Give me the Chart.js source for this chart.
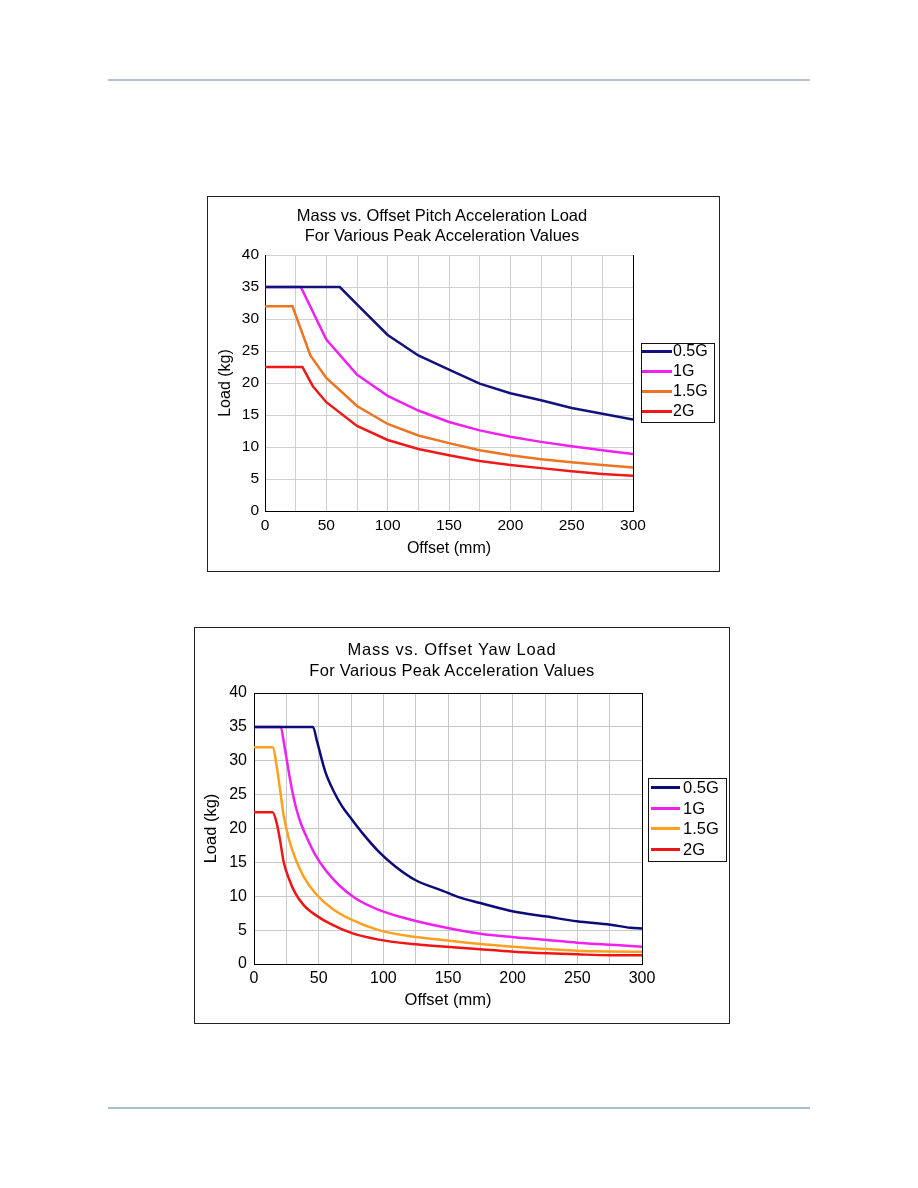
<!DOCTYPE html>
<html>
<head>
<meta charset="utf-8">
<title>Mass vs. Offset Load</title>
<script src="https://cdn.jsdelivr.net/npm/chart.js@4.4.1/dist/chart.umd.min.js"></script>
<style>
  html, body { margin: 0; padding: 0; background: #fff; }
  body {
    width: 918px; height: 1188px; position: relative; overflow: hidden;
    font-family: 'Liberation Sans', Arial, sans-serif; color: #000;
  }
  .rule { position: absolute; left: 108px; width: 702px; height: 2px; }
  .rule.top { top: 79px; background: #b9bdcc; }
  .rule.bottom { top: 1107px; background: #a9bece; }
  .frame { position: absolute; box-sizing: border-box; border: 1px solid #222; background: #fff; }
  .frame canvas { position: absolute; left: 0; top: 0; }
  .title { position: absolute; text-align: center; white-space: nowrap; }
  .legend { position: absolute; box-sizing: border-box; border: 1px solid #111; background: #fff; }
  .legend ul { list-style: none; margin: 0; padding: 0; position: relative; }
  .legend li { display: flex; align-items: center; white-space: nowrap; }
  .legend .swatch { display: inline-block; height: 3px; flex: none; }
</style>
</head>
<body>
<div class="rule top"></div>

<div class="frame" style="left:207px; top:196px; width:513px; height:376px;">
  <canvas id="pitchChart" width="511" height="374"></canvas>
</div>
<div class="title" style="left:292px; top:206px; width:300px; font-size:16.5px; line-height:19.5px;">
  <div>Mass vs. Offset Pitch Acceleration Load</div>
  <div>For Various Peak Acceleration Values</div>
</div>
<div class="legend" id="pitchLegend" style="left:641px; top:343px; width:74px; height:80px;"></div>

<div class="frame" style="left:194px; top:627px; width:536px; height:397px;">
  <canvas id="yawChart" width="534" height="395"></canvas>
</div>
<div class="title" style="left:302px; top:639px; width:300px; font-size:16.5px; line-height:21px;">
  <div style="letter-spacing:0.8px;">Mass vs. Offset Yaw Load</div>
  <div style="letter-spacing:0.3px;">For Various Peak Acceleration Values</div>
</div>
<div class="legend" id="yawLegend" style="left:648px; top:778px; width:79px; height:84px;"></div>

<div class="rule bottom"></div>

<script>
'use strict';

// ─── Data ─────────────────────────────────────────────────────────────────────

const seriesNames = ['0.5G', '1G', '1.5G', '2G'];
const offsetTickLabels = [0, 50, 100, 150, 200, 250, 300];
const loadTickLabels = [0, 5, 10, 15, 20, 25, 30, 35, 40];

// pitch acceleration load: [offset mm, load kg]
const pitch05G = [[0, 35], [61, 35], [75, 32.3], [100, 27.5], [125, 24.3], [150, 22.1], [175, 19.9],
  [200, 18.4], [225, 17.3], [250, 16.1], [275, 15.2], [300, 14.3]];
const pitch1G = [[0, 35], [29.2, 35], [50, 26.8], [75, 21.3], [100, 18.0], [125, 15.7], [150, 13.9],
  [175, 12.6], [200, 11.6], [225, 10.8], [250, 10.1], [275, 9.5], [300, 8.9]];
const pitch15G = [[0, 32], [22.4, 32], [37, 24.3], [50, 20.8], [75, 16.4], [100, 13.6], [125, 11.8],
  [150, 10.6], [175, 9.5], [200, 8.7], [225, 8.1], [250, 7.6], [275, 7.2], [300, 6.8]];
const pitch2G = [[0, 22.5], [30.5, 22.5], [39, 19.5], [50, 17.0], [75, 13.3], [100, 11.1], [125, 9.7],
  [150, 8.7], [175, 7.8], [200, 7.2], [225, 6.7], [250, 6.2], [275, 5.8], [300, 5.5]];

// yaw load: [offset mm, load kg]
const yaw05G = [[0, 35], [45.6, 35], [48.7, 32.9], [55.1, 28.4], [61.6, 25.5], [68, 23.3], [75.8, 21.3],
  [84.8, 19.1], [96.4, 16.6], [109.3, 14.4], [124.7, 12.4], [146, 10.8], [157, 9.95], [175, 9.0],
  [200.7, 7.75], [226.5, 7.0], [249.7, 6.3], [275.5, 5.8], [291, 5.35], [300, 5.25]];
const yaw1G = [[0, 35], [20.3, 35], [24.2, 31.4], [28.1, 27.0], [31.9, 23.5], [35.8, 21.0], [41, 18.6],
  [47.4, 16.1], [55.1, 13.9], [65.4, 11.7], [78.3, 9.7], [96.4, 8.0], [117, 6.75], [146, 5.45],
  [175, 4.45], [200.7, 3.95], [226.5, 3.55], [249.7, 3.15], [275.5, 2.85], [291, 2.65], [300, 2.55]];
const yaw15G = [[0, 32], [14.4, 32], [17.8, 28.9], [20.3, 25.5], [22.9, 22.0], [26.8, 18.6], [31.9, 15.6],
  [38.4, 12.9], [47.4, 10.45], [60.3, 8.2], [75.8, 6.5], [96.4, 5.0], [122.2, 4.05], [146, 3.55],
  [175, 2.95], [200.7, 2.55], [226.5, 2.2], [249.7, 1.97], [275.5, 1.85], [300, 1.8]];
const yaw2G = [[0, 22.4], [14.4, 22.4], [17.8, 20.6], [20.3, 18.1], [22.9, 15.1], [26.8, 12.7],
  [31.9, 10.45], [38.4, 8.7], [47.4, 7.25], [60.3, 5.8], [75.8, 4.55], [96.4, 3.6], [122.2, 2.95],
  [146, 2.6], [175, 2.17], [200.7, 1.82], [226.5, 1.58], [249.7, 1.43], [275.5, 1.3], [300, 1.3]];

const pitchColors = ['#12127c', '#f020f0', '#ec7422', '#ee1a1a'];
const yawColors = ['#0c0c78', '#f020f0', '#ffa01e', '#f01414'];

// ─── Plugins ──────────────────────────────────────────────────────────────────

// black frame on the right (and optionally top) edge of the plot area
const plotFrame = {
  id: 'plotFrame',
  afterDraw(chart, args, opts) {
    const { ctx, chartArea: a } = chart;
    const r = Math.floor(a.right) + 0.5;
    const t = Math.floor(a.top) + 0.5;
    ctx.save();
    ctx.strokeStyle = '#000';
    ctx.lineWidth = 1;
    ctx.beginPath();
    ctx.moveTo(r, a.top);
    ctx.lineTo(r, a.bottom);
    if (opts.top) {
      ctx.moveTo(a.left, t);
      ctx.lineTo(a.right, t);
    }
    ctx.stroke();
    ctx.restore();
  },
};

// ─── Chart builder ────────────────────────────────────────────────────────────

const toPoints = (pairs) => pairs.map(([x, y]) => ({ x, y }));

function buildDatasets(seriesList, colors, smooth) {
  return seriesList.map((pairs, i) => ({
    label: seriesNames[i],
    data: toPoints(pairs),
    borderColor: colors[i],
    backgroundColor: colors[i],
    borderWidth: 2.5,
    pointRadius: 0,
    tension: smooth ? 0.4 : 0,
    cubicInterpolationMode: smooth ? 'monotone' : 'default',
    fill: false,
  }));
}

function makeChart(canvasId, datasets, L) {
  const ctx = document.getElementById(canvasId).getContext('2d');
  return new Chart(ctx, {
    type: 'line',
    data: { datasets },
    plugins: [plotFrame],
    options: {
      responsive: false,
      animation: false,
      devicePixelRatio: 1,
      layout: { padding: { top: L.top, right: L.right, bottom: 0, left: 0 } },
      plugins: {
        legend: { display: false },
        title: { display: false },
        tooltip: { enabled: false },
        plotFrame: { top: L.frameTop },
      },
      scales: {
        x: {
          type: 'linear',
          min: 0,
          max: 300,
          afterFit: (s) => { s.height = L.xHeight; },
          ticks: {
            stepSize: 25,
            autoSkip: false,
            maxRotation: 0,
            padding: L.xTickPad,
            color: '#000',
            font: { family: "'Liberation Sans', Arial", size: L.tickSize },
            callback: (v) => (offsetTickLabels.includes(v) ? String(v) : ''),
          },
          grid: { color: L.gridColor, drawTicks: false },
          border: { display: true, color: '#000', width: 1 },
          title: {
            display: true,
            text: 'Offset (mm)',
            color: '#000',
            font: { family: "'Liberation Sans', Arial", size: L.titleSize },
            padding: { top: 0, bottom: L.xTitlePad },
          },
        },
        y: {
          min: 0,
          max: 40,
          afterFit: (s) => { s.width = L.yWidth; },
          ticks: {
            stepSize: 5,
            padding: L.yTickPad,
            color: '#000',
            font: { family: "'Liberation Sans', Arial", size: L.tickSize },
            callback: (v) => (loadTickLabels.includes(v) ? String(v) : ''),
          },
          grid: { color: L.gridColor, drawTicks: false },
          border: { display: true, color: '#000', width: 1 },
          title: {
            display: true,
            text: 'Load (kg)',
            color: '#000',
            font: { family: "'Liberation Sans', Arial", size: L.titleSize },
            padding: { top: L.yTitlePad, bottom: 0 },
          },
        },
      },
    },
  });
}

// HTML legend generated from the chart's datasets
function buildLegend(chart, elId, L) {
  const box = document.getElementById(elId);
  const ul = document.createElement('ul');
  ul.style.top = `${L.offset}px`;
  chart.data.datasets.forEach((ds) => {
    const li = document.createElement('li');
    li.style.height = `${L.rowHeight}px`;
    li.style.fontSize = `${L.fontSize}px`;
    const sw = document.createElement('span');
    sw.className = 'swatch';
    sw.style.background = ds.borderColor;
    sw.style.width = `${L.swatch}px`;
    sw.style.marginLeft = `${L.indent}px`;
    sw.style.marginRight = `${L.gap}px`;
    const txt = document.createElement('span');
    txt.textContent = ds.label;
    li.appendChild(sw);
    li.appendChild(txt);
    ul.appendChild(li);
  });
  box.appendChild(ul);
}

// ─── Render ───────────────────────────────────────────────────────────────────

const pitchChart = makeChart(
  'pitchChart',
  buildDatasets([pitch05G, pitch1G, pitch15G, pitch2G], pitchColors, false),
  {
    top: 58, right: 86, yWidth: 57, xHeight: 60, frameTop: false,
    tickSize: 15.5, titleSize: 16, xTickPad: 5, yTickPad: 6, xTitlePad: 13, yTitlePad: 8,
    gridColor: '#cfcfcf',
  }
);
buildLegend(pitchChart, 'pitchLegend', { offset: -3, rowHeight: 20, fontSize: 16, swatch: 30, indent: 0, gap: 1 });

const yawChart = makeChart(
  'yawChart',
  buildDatasets([yaw05G, yaw1G, yaw15G, yaw2G], yawColors, true),
  {
    top: 65, right: 87, yWidth: 59, xHeight: 59, frameTop: true,
    tickSize: 16, titleSize: 16.5, xTickPad: 5, yTickPad: 7, xTitlePad: 13, yTitlePad: 7,
    gridColor: '#c8c8c8',
  }
);
buildLegend(yawChart, 'yawLegend', { offset: -2, rowHeight: 20.7, fontSize: 16.5, swatch: 29, indent: 2, gap: 3 });
</script>
</body>
</html>
